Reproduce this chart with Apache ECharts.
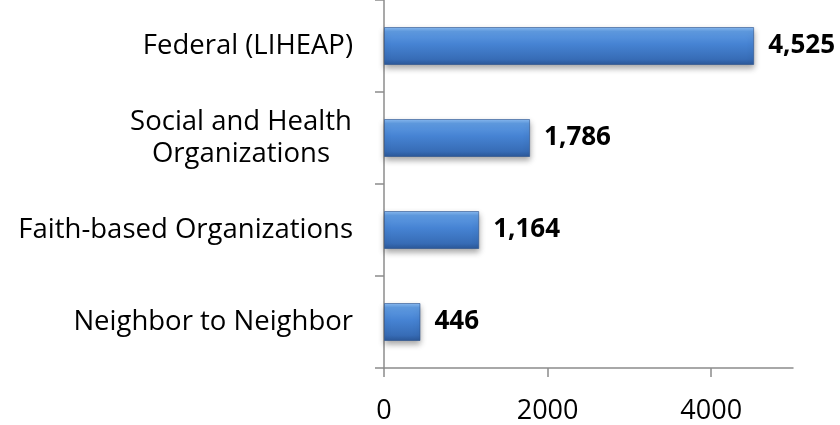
<!DOCTYPE html>
<html>
<head>
<meta charset="utf-8">
<title>Energy assistance by source</title>
<script src="https://cdn.jsdelivr.net/npm/echarts@6/dist/echarts.min.js"></script>
<style>
  html, body { margin: 0; padding: 0; background: #ffffff; }
  #chart { width: 840px; height: 425px; }
</style>
</head>
<body>
<div id="chart"></div>
<script>
// Categories listed bottom-to-top (category axis on y grows upward)
var categories = ['Neighbor to Neighbor', 'Faith-based Organizations', 'Social and Health\nOrganizations', 'Federal (LIHEAP)'];
var values = [446, 1164, 1786, 4525];
var axisMin = 0;
var axisMax = 5000;
var tickStep = 2000;

var FONT = '"Open Sans", "Noto Sans", sans-serif';

var chart = echarts.init(document.getElementById('chart'), null, { renderer: 'canvas' });

chart.setOption({
  animation: false,
  backgroundColor: '#ffffff',
  grid: { left: 384, right: 47, top: 0, bottom: 54, containLabel: false },
  xAxis: {
    type: 'value',
    min: axisMin,
    max: axisMax,
    interval: tickStep,
    axisLine: { show: true, lineStyle: { color: '#8c8c8c', width: 1.5 } },
    axisTick: { show: true, inside: false, length: 9, lineStyle: { color: '#8c8c8c', width: 1.5 } },
    splitLine: { show: false },
    axisLabel: {
      show: true,
      margin: 30,
      showMaxLabel: false,
      color: '#000000',
      fontFamily: FONT,
      fontSize: 27,
      formatter: function (v) { return String(v); }
    }
  },
  yAxis: {
    type: 'category',
    data: categories,
    axisLine: { show: true, lineStyle: { color: '#8c8c8c', width: 1.5 } },
    axisTick: { show: true, length: 9, lineStyle: { color: '#8c8c8c', width: 1.5 } },
    axisLabel: {
      margin: 31,
      color: '#000000',
      fontFamily: FONT,
      fontSize: 27.5,
      lineHeight: 32,
      formatter: function (v) {
        var lines = v.split('\n');
        if (lines.length === 1) return v;
        return lines.map(function (l) { return '{c|' + l + '}'; }).join('\n');
      },
      rich: {
        c: { width: 224, align: 'center', fontFamily: FONT, fontSize: 27.5, lineHeight: 32, color: '#000000' }
      }
    }
  },
  series: [{
    type: 'bar',
    data: values,
    barWidth: 38,
    itemStyle: {
      color: new echarts.graphic.LinearGradient(0, 0, 0, 1, [
        { offset: 0, color: '#8cbdf3' },
        { offset: 0.12, color: '#5f9be2' },
        { offset: 0.45, color: '#4683d3' },
        { offset: 0.85, color: '#376cb6' },
        { offset: 1, color: '#2b5898' }
      ]),
      borderColor: 'rgba(40,80,140,0.6)',
      borderWidth: 1,
      shadowColor: 'rgba(0,0,0,0.35)',
      shadowBlur: 6,
      shadowOffsetY: 3
    },
    label: {
      show: true,
      position: 'right',
      distance: 14,
      color: '#000000',
      fontFamily: FONT,
      fontWeight: 'bold',
      fontSize: 26,
      formatter: function (p) { return p.value.toLocaleString('en-US'); }
    }
  }]
});
</script>
</body>
</html>
